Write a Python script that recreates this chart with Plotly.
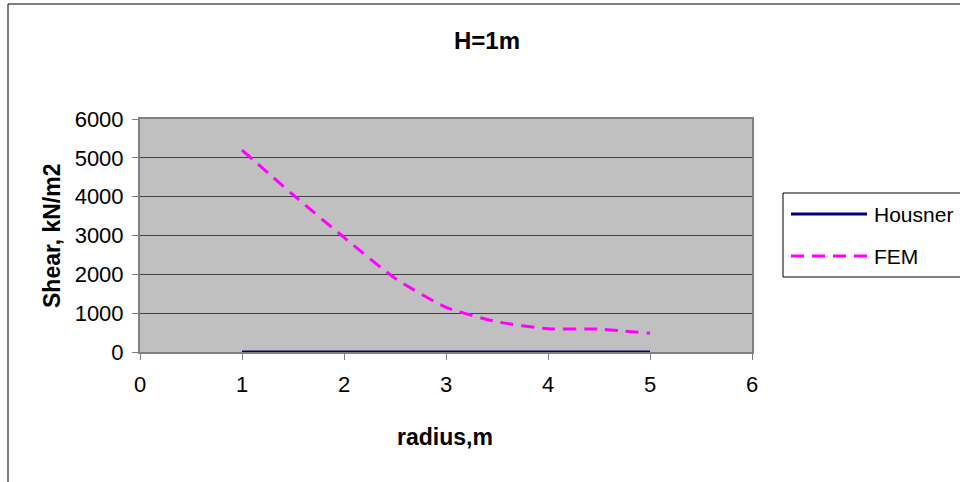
import plotly.graph_objects as go

# Shear stress along the radius for a 1 m water depth
radius = [1, 1.5, 2, 2.5, 3, 3.5, 4, 4.5, 5]
housner = [0, 0, 0, 0, 0, 0, 0, 0, 0]
fem = [5200, 4050, 2950, 1900, 1150, 780, 600, 590, 480]

series_names = ["Housner", "FEM"]
x_ticks = [0, 1, 2, 3, 4, 5, 6]
y_ticks = [0, 1000, 2000, 3000, 4000, 5000, 6000]

W, H = 960, 482
L, R, T, B = 140, 208, 119, 130
pw, ph = W - L - R, H - T - B

def px(x):
    return (x - L) / pw

def py(y):
    return (H - B - y) / ph

font = "Liberation Sans, Arial, sans-serif"
styles = [
    dict(color="#000080", width=3),
    dict(color="#FF00FF", width=3, dash="13px,8px"),
]

fig = go.Figure()
fig.add_trace(go.Scatter(
    x=radius, y=housner, name=series_names[0], mode="lines",
    line=styles[0], showlegend=False, cliponaxis=False,
))
fig.add_trace(go.Scatter(
    x=radius, y=fem, name=series_names[1], mode="lines",
    line=dict(**styles[1], shape="spline", smoothing=0.6),
    showlegend=False,
))

# chart frame and legend box
shapes = [
    dict(type="rect", xref="paper", yref="paper",
         x0=px(8), x1=px(966), y0=py(490), y1=py(4),
         line=dict(color="black", width=1), layer="below"),
    dict(type="rect", xref="paper", yref="paper",
         x0=px(783), x1=px(966), y0=py(277), y1=py(193),
         line=dict(color="black", width=1), fillcolor="white", layer="below"),
]
annotations = []
for i, (name, st) in enumerate(zip(series_names, styles)):
    yc = 214 + i * 42
    shapes.append(dict(type="line", xref="paper", yref="paper",
                       x0=px(791), x1=px(867), y0=py(yc), y1=py(yc),
                       line=st))
    annotations.append(dict(text=name, xref="paper", yref="paper",
                            x=px(872), y=py(yc), xanchor="left", yanchor="middle",
                            showarrow=False, font=dict(size=21)))

annotations += [
    dict(text="<b>radius,m</b>", xref="paper", yref="paper",
         x=px(445), y=py(437), xanchor="center", yanchor="middle",
         showarrow=False, font=dict(size=23)),
    dict(text="<b>Shear, kN/m2</b>", xref="paper", yref="paper",
         x=px(52), y=py(236), xanchor="center", yanchor="middle",
         textangle=-90, showarrow=False, font=dict(size=23)),
]

fig.update_layout(
    width=W, height=H,
    margin=dict(l=L, r=R, t=T, b=B),
    paper_bgcolor="white",
    plot_bgcolor="#C0C0C0",
    font=dict(family=font, size=22, color="black"),
    showlegend=False,
    title=dict(
        text="<b>H=1m</b>", x=487 / W, xanchor="center",
        y=1 - 41 / H, yanchor="middle", font=dict(size=24),
    ),
    shapes=shapes,
    annotations=annotations,
)

fig.update_xaxes(
    range=[0, 6], tickvals=x_ticks, ticks="outside", ticklen=6,
    tickcolor="#808080", showline=True, linecolor="#808080", linewidth=2,
    mirror=True, showgrid=False, zeroline=False, ticklabelstandoff=6,
    layer="below traces",
)
fig.update_yaxes(
    range=[0, 6000], tickvals=y_ticks, ticks="outside", ticklen=6,
    tickcolor="#808080", showline=True, linecolor="#808080", linewidth=2,
    mirror=True, showgrid=True, gridcolor="#404040", gridwidth=1,
    zeroline=False, ticklabelstandoff=4, layer="below traces",
)

fig.write_html("out.html")
